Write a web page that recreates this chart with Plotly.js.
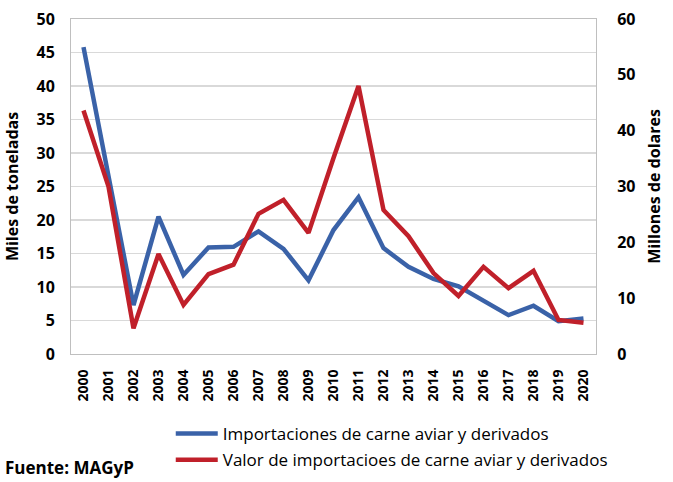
<!DOCTYPE html>
<html>
<head>
<meta charset="utf-8">
<script src="https://cdn.plot.ly/plotly-3.0.1.min.js"></script>
<style>html,body{margin:0;padding:0;background:#fff;}#chart{width:673px;height:482px;}</style>
</head>
<body>
<div id="chart"></div>
<script>
var years = ["2000","2001","2002","2003","2004","2005","2006","2007","2008","2009","2010","2011","2012","2013","2014","2015","2016","2017","2018","2019","2020"];
var toneladas = [45.8, 26.8, 7.3, 20.5, 11.8, 15.9, 16.0, 18.3, 15.7, 11.0, 18.5, 23.4, 15.8, 13.0, 11.2, 10.1, 8.0, 5.8, 7.2, 4.9, 5.3];
var dolares = [43.6, 30.0, 4.6, 17.9, 8.8, 14.3, 16.0, 25.1, 27.6, 21.7, 35.1, 48.0, 25.8, 21.1, 14.5, 10.4, 15.6, 11.8, 14.9, 6.1, 5.6];
var name1 = "Importaciones de carne aviar y derivados";
var name2 = "Valor de importacioes de carne aviar y derivados";

var FF = "Open Sans, sans-serif";
var traces = [
  {x: years, y: toneladas, type: "scatter", mode: "lines", name: name1, yaxis: "y",
   line: {color: "#3a62a8", width: 4.5}, legendgroup: "a"},
  {x: years, y: dolares, type: "scatter", mode: "lines", name: name2, yaxis: "y2",
   line: {color: "#c0202a", width: 4.5}, legendgroup: "b"}
];
var layout = {
  width: 673, height: 482,
  margin: {l: 71, r: 77, t: 19, b: 128, autoexpand: false},
  paper_bgcolor: "#fff", plot_bgcolor: "#fff",
  showlegend: true,
  font: {family: FF, color: "#000"},
  xaxis: {type: "category", range: [-0.5, 20.5], tickangle: -90, tickfont: {size: 14, weight: 700, family: FF},
          showline: true, linecolor: "#bfbfbf", linewidth: 1, mirror: true,
          showgrid: false, ticks: "outside", ticklen: 9, tickcolor: "rgba(0,0,0,0)", fixedrange: true},
  yaxis: {range: [0, 50], dtick: 5, tickfont: {size: 16, weight: 700, family: FF},
          showgrid: true, gridcolor: "#d9d9d9", gridwidth: 1.5, zeroline: false,
          showline: true, linecolor: "#bfbfbf", ticks: "outside", ticklen: 12, tickcolor: "rgba(0,0,0,0)",
          title: {text: "Miles de toneladas", font: {size: 16, weight: 700, family: FF}, standoff: 13}},
  yaxis2: {range: [0, 60], dtick: 10, overlaying: "y", side: "right",
           tickfont: {size: 16, weight: 700, family: FF}, showgrid: false, zeroline: false,
           showline: true, linecolor: "#bfbfbf", ticks: "outside", ticklen: 17, tickcolor: "rgba(0,0,0,0)",
           title: {text: "Millones de dolares", font: {size: 16, weight: 700, family: FF}, standoff: 14}},
  legend: {orientation: "v", x: 0.19, xanchor: "left", y: -0.185, yanchor: "top",
           font: {size: 17, family: FF}, itemwidth: 42, tracegroupgap: 1, bgcolor: "rgba(0,0,0,0)"},
  annotations: [{text: "Fuente: MAGyP", xref: "paper", yref: "paper", x: -0.13, xanchor: "left",
                 y: -0.34, yanchor: "middle", showarrow: false,
                 font: {size: 17, weight: 700, family: FF}}]
};
Plotly.newPlot("chart", traces, layout, {displayModeBar: false, staticPlot: true});
</script>
</body>
</html>
